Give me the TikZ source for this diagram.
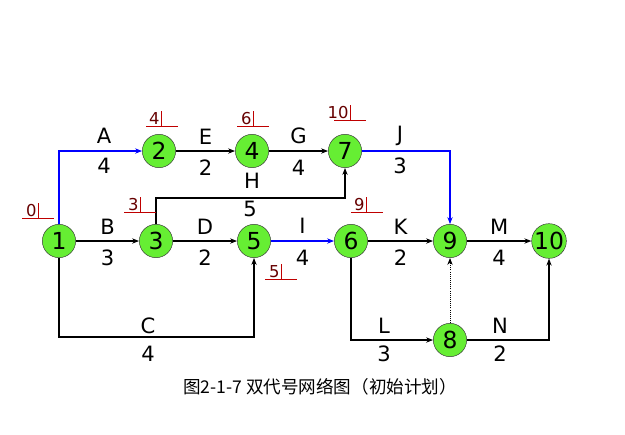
\documentclass[tikz,border=0pt]{standalone}
\usepackage{fontspec}
\setmainfont{DejaVu Sans}
\newfontfamily\cjk{Noto Sans CJK SC}
\usepackage{tikz}
\usetikzlibrary{arrows.meta,positioning}

\definecolor{evgreen}{RGB}{102,238,51}

\newcommand{\evtime}[4]{% x of underline start, x of bar, y, text
  \draw[red!75!black, thin] (#1,#3) -- ++(32,0) (#2,#3) -- ++(0,-15);
  \node[anchor=south east, inner sep=1pt, text=red!40!black, font=\fontsize{14}{14}\selectfont] at (#2,#3) {#4};
}

\begin{document}
\begin{tikzpicture}[
    x=0.03cm, y=-0.03cm,
    event/.style={circle, draw=black!80, fill=evgreen, minimum size=1.0cm, inner sep=0pt, font=\fontsize{20}{20}\selectfont},
    arrow/.style={line width=1.1pt, -{Stealth[length=6pt]}},
    crit/.style={arrow, blue, line width=1.5pt},
    lbl/.style={text=black, font=\fontsize{18}{18}\selectfont}
  ]
    \useasboundingbox (0,0) rectangle (625,434);
    % Nodes
    \node[event] (n1) at (59,241) {1};
    \node[event] (n2) at (159,151) {2};
    \node[event] (n4) at (252,151) {4};
    \node[event] (n7) at (345,151) {7};
    \node[event] (n3) at (156,241) {3};
    \node[event] (n5) at (254,241) {5};
    \node[event] (n6) at (351,241) {6};
    \node[event] (n9) at (450,241) {9};
    \node[event] (n10) at (549,241) {10};
    \node[event] (n8) at (450,340) {8};
    \coordinate (hc) at (345,198);
    \coordinate (cc) at (59,337);

    % Arrows
    \draw[crit] (n1) |- (n2);
    \draw[arrow] (n2) -- node[lbl, above=2pt] {E} node[lbl, below=4pt] {2} (n4);
    \draw[arrow] (n4) -- node[lbl, above=2pt] {G} node[lbl, below=4pt] {4} (n7);
    \draw[crit] (n7) -| (n9);
    \draw[arrow] (n3) |- (hc) -- (n7);
    \draw[arrow] (n1) -- node[lbl, above=2pt] {B} node[lbl, below=4pt] {3} (n3);
    \draw[arrow] (n3) -- node[lbl, above=2pt] {D} node[lbl, below=4pt] {2} (n5);
    \draw[crit] (n5) -- node[lbl, above=2pt] {I} node[lbl, below=4pt] {4} (n6);
    \draw[arrow] (n6) -- node[lbl, above=2pt] {K} node[lbl, below=4pt] {2} (n9);
    \draw[arrow] (n9) -- node[lbl, above=2pt] {M} node[lbl, below=4pt] {4} (n10);
    \draw[arrow] (n1) -- (cc) -| (n5);
    \draw[arrow] (n6) |- (n8);
    \draw[arrow] (n8) -| (n10);
    \draw[arrow, line width=0.8pt, densely dotted] (n8) -- (n9);

    % Labels on bent arrows
    \node[lbl] at (104,136) {A};
    \node[lbl] at (104,166) {4};
    \node[lbl] at (400,136) {J};
    \node[lbl] at (400,166) {3};
    \node[lbl] at (252,181) {H};
    \node[lbl] at (250,209) {5};
    \node[lbl] at (148,326) {C};
    \node[lbl] at (148,354) {4};
    \node[lbl] at (384,326) {L};
    \node[lbl] at (384,354) {3};
    \node[lbl] at (500,326) {N};
    \node[lbl] at (500,354) {2};

    % Event times
    \evtime{22}{38}{218}{0}
    \evtime{146}{161}{126}{4}
    \evtime{237}{253}{126}{6}
    \evtime{334}{350}{120}{10}
    \evtime{124}{140}{212}{3}
    \evtime{351}{366}{212}{9}
    \evtime{265}{281}{279}{5}

    % Caption
    \node[font=\cjk\fontsize{15}{15}\selectfont] (cap) at (320,387) {图2-1-7 双代号网络图（初始计划）};
\end{tikzpicture}
\end{document}
